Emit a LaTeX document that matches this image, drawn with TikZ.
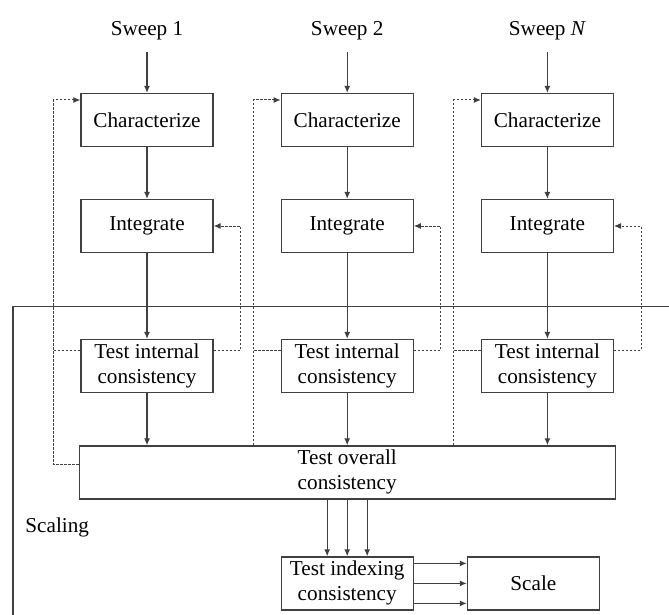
\documentclass[tikz,border=0pt]{standalone}
\usepackage{fontspec}
\setmainfont{Liberation Serif}
\usetikzlibrary{arrows.meta,positioning,calc}

\begin{document}
\begin{tikzpicture}[
    x=0.5pt, y=-0.5pt,
    font=\fontsize{10.6}{12.5}\selectfont,
    stage/.style={rectangle, draw=black!75, line width=0.6pt, minimum width=66pt, minimum height=26.5pt, inner sep=1pt, align=center},
    sweep/.style={inner sep=0pt},
    arrow/.style={-{Latex[length=3.5pt,width=3pt]}, line width=0.6pt, color=black!75},
    feedback/.style={-{Latex[length=3.5pt,width=3pt]}, dash pattern=on 1.2pt off 0.8pt, line width=0.5pt, color=black!75},
    feedline/.style={dash pattern=on 1.2pt off 0.8pt, line width=0.5pt, color=black!75},
    frame/.style={line width=0.6pt, color=black!75}
]
    \useasboundingbox (0,0) rectangle (669,615);

    % --- Sweeps ---
    \node[stage] (char1) at (147,120) {Characterize};
    \node[stage, right=33.5pt of char1] (char2) {Characterize};
    \node[stage, right=33.5pt of char2] (char3) {Characterize};

    \node[sweep, above=26pt of char1] (sweep1) {Sweep 1};
    \node[sweep, above=26pt of char2] (sweep2) {Sweep 2};
    \node[sweep, above=26pt of char3] (sweep3) {Sweep \textit{N}};

    \foreach \i in {1,2,3} {
        \node[stage, below=25.9pt of char\i] (integ\i) {Integrate};
        \node[stage, below=42.9pt of integ\i] (test\i) {Test internal\\consistency};
    }

    % --- Scaling ---
    \node[stage, below=26.1pt of test2, minimum width=268pt] (overall) {Test overall\\consistency};
    \node[stage, below=28.4pt of overall] (index) {Test indexing\\consistency};
    \node[stage, right=26.5pt of index] (scale) {Scale};

    \node[inner sep=0pt, anchor=west] (scaling) at (25,527) {Scaling};
    \draw[frame] (669,306.5) -- (13,306.5) -- (13,615);

    % --- Connections ---
    \foreach \i in {1,2,3} {
        \draw[arrow, shorten <=5.5pt] (sweep\i) -- (char\i);
        \draw[arrow] (char\i) -- (integ\i);
        \draw[arrow] (integ\i) -- (test\i);
        \draw[arrow] (test\i) -- (test\i |- overall.north);
        \draw[feedback] ([yshift=8pt]test\i.east) -- ++(13.5pt,0) |- (integ\i.east);
        \draw[feedline] ([yshift=8pt]test\i.west) -- ++(-13.5pt,0);
    }

    % Back to characterize
    \draw[feedback] ([yshift=4pt]overall.west) -| ([xshift=-13.5pt,yshift=10pt]char1.west) -- ([yshift=10pt]char1.west);
    \foreach \i in {2,3}
        \draw[feedback] ([xshift=-13.5pt]char\i.west |- overall.north) |- ([yshift=10pt]char\i.west);

    % Indexing and scale
    \foreach \d in {-10pt,0pt,10pt} {
        \draw[arrow] ([xshift=\d]index.north |- overall.south) -- ([xshift=\d]index.north);
        \draw[arrow] ([yshift=\d]index.east) -- ([yshift=\d]index.east -| scale.west);
    }

\end{tikzpicture}
\end{document}
